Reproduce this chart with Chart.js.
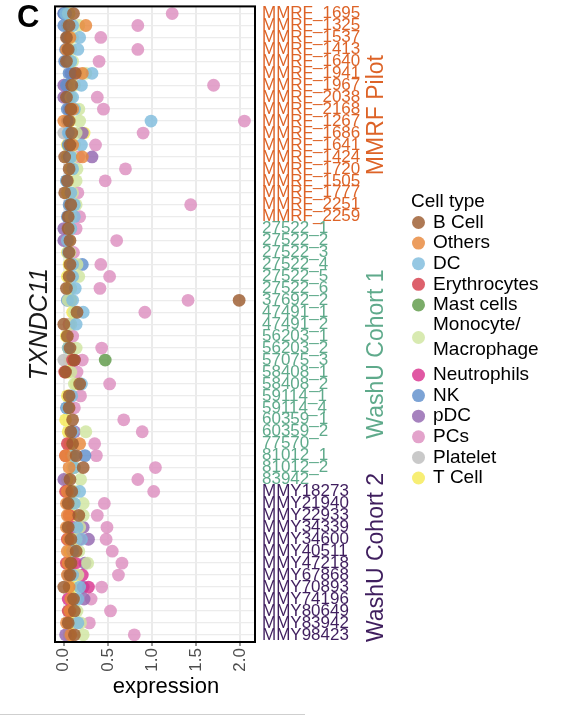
<!DOCTYPE html>
<html>
<head>
<meta charset="utf-8">
<script src="https://cdn.jsdelivr.net/npm/chart.js@4"></script>
<style>
  html, body { margin: 0; padding: 0; background: #fff; }
</style>
</head>
<body>
<canvas id="chart" width="580" height="719"></canvas>
<script>
const _ = null;

// Samples, top to bottom, grouped by cohort
const mmrfSamples = ['MMRF_1695', 'MMRF_1325', 'MMRF_1537', 'MMRF_1413', 'MMRF_1640', 'MMRF_1941',
  'MMRF_1967', 'MMRF_2038', 'MMRF_2168', 'MMRF_1267', 'MMRF_1686', 'MMRF_1641', 'MMRF_1424',
  'MMRF_1720', 'MMRF_1505', 'MMRF_1777', 'MMRF_2251', 'MMRF_2259'];
const washu1Samples = ['27522_1', '27522_2', '27522_3', '27522_4', '27522_5', '27522_6', '37692_2',
  '47491_1', '47491_2', '56203_1', '56203_2', '57075_3', '58408_1', '58408_2', '59114_1', '59114_4',
  '60359_1', '60359_2', '77570', '81012_1', '81012_2', '83942'];
const washu2Samples = ['MMY18273', 'MMY21940', 'MMY22933', 'MMY34339', 'MMY34600', 'MMY40511',
  'MMY47218', 'MMY67868', 'MMY70893', 'MMY74196', 'MMY80649', 'MMY83942', 'MMY98423'];

const cohorts = ['MMRF Pilot', 'WashU Cohort 1', 'WashU Cohort 2'];
const cohortColors = ['#DD6327', '#5FAA8B', '#3F1E5E'];

const cellTypes = ['B Cell', 'Others', 'DC', 'Erythrocytes', 'Mast cells', 'Monocyte/Macrophage',
  'Neutrophils', 'NK', 'pDC', 'PCs', 'Platelet', 'T Cell'];
const cellColors = ['#9C5B2E', '#E8883A', '#7FBCDD', '#D63E4C', '#5E9A48', '#CFE5A0',
  '#D9338F', '#5F8FCC', '#9366B0', '#DD8FC0', '#BDBDBD', '#F5EA55'];

// TXNDC11 expression per sample (rows: MMRF / WashU 1 / WashU 2)
const bCell = [
  0.11, 0.06, 0.03, 0.05, 0.03, 0.13, 0.09, 0.03, 0.08, 0.06, 0.09, 0.07, 0.01, 0.06, 0.04, 0.01, 0.08, 0.05,
  0.05, 0.07, 0.06, 0.07, 0.06, 0.03, 1.99, 0.15, 0.00, 0.04, 0.07, 0.12, 0.02, 0.18, 0.06, 0.06, 0.10, 0.08, 0.10, 0.14, 0.22, 0.07,
  0.09, 0.05, 0.17, 0.05, 0.08, 0.14, 0.08, 0.07, 0.00, 0.11, 0.12, 0.05, 0.12];
const others = [
  _, 0.25, 0.07, 0.03, _, 0.21, _, _, 0.10, 0.00, _, 0.10, 0.21, _, _, _, _, _,
  _, _, _, _, _, _, _, _, _, _, _, _, _, _, _, _, _, _, 0.18, 0.02, 0.06, _,
  0.04, 0.03, 0.04, 0.03, 0.05, 0.04, 0.05, 0.04, 0.06, 0.08, 0.07, 0.03, 0.08];
const dc = [
  0.02, 0.10, 0.18, 0.16, 0.08, 0.32, 0.20, 0.10, 0.12, 0.99, 0.05, 0.20, 0.08, 0.10, 0.03, 0.08, 0.12, 0.12,
  0.08, 0.04, 0.05, 0.10, 0.10, 0.13, 0.10, 0.22, 0.14, _, 0.05, _, _, 0.20, 0.09, 0.04, _, 0.10, _, 0.11, 0.12, _,
  0.18, 0.12, _, 0.15, 0.20, 0.10, _, 0.10, 0.18, 0.16, _, 0.16, _];
const erythrocytes = [
  _, _, _, _, _, _, _, _, _, _, _, _, _, _, _, _, _, _,
  _, _, _, _, _, _, _, _, _, _, _, 0.10, 0.01, _, _, _, _, _, 0.04, 0.02, _, _,
  0.02, _, 0.06, _, 0.04, _, 0.03, _, _, _, 0.05, _, _];
const mastCells = [
  _, _, _, _, _, _, _, _, _, _, _, _, _, _, _, _, _, _,
  _, _, _, _, _, _, _, _, _, _, _, 0.47, _, _, _, _, _, _, _, _, _, _,
  _, _, _, _, _, _, _, _, _, _, _, _, _];
const monocyte = [
  0.05, 0.17, 0.10, 0.08, 0.10, 0.25, 0.12, 0.08, 0.17, 0.18, 0.14, 0.12, 0.10, 0.15, 0.14, 0.10, 0.14, 0.08,
  0.07, _, 0.07, 0.15, 0.17, 0.08, 0.05, 0.12, 0.08, _, 0.14, _, 0.08, 0.12, _, _, _, 0.25, _, _, 0.10, 0.19,
  0.12, 0.22, 0.22, 0.18, 0.14, 0.17, 0.27, 0.16, _, 0.12, 0.15, 0.19, 0.22];
const neutrophils = [
  _, _, _, _, _, _, _, _, _, _, _, _, _, _, _, _, _, _,
  _, _, _, _, _, _, _, _, _, _, _, 0.12, _, _, _, _, _, _, _, _, _, _,
  _, _, _, 0.10, 0.18, _, 0.13, 0.21, 0.28, 0.05, _, _, _];
const nk = [
  0.00, 0.00, 0.04, 0.02, 0.01, 0.06, 0.03, 0.05, 0.04, 0.04, 0.06, 0.05, 0.06, _, 0.03, _, 0.06, 0.04,
  _, _, _, 0.21, _, _, 0.04, _, _, _, _, _, _, _, _, 0.03, _, _, _, 0.24, _, _,
  0.06, _, _, _, 0.06, _, _, 0.05, _, _, _, _, _];
const pdc = [
  0.00, _, _, _, _, 0.08, 0.00, 0.00, 0.06, _, 0.21, _, 0.32, _, _, _, _, _,
  0.00, 0.00, _, _, _, _, _, _, _, _, _, _, _, _, _, _, _, 0.12, _, _, _, 0.00,
  _, _, _, 0.22, 0.28, _, 0.24, _, 0.22, 0.23, _, _, 0.02];
const pcs = [
  1.23, 0.84, 0.42, 0.84, 0.40, 0.15, 1.70, 0.38, 0.45, 2.05, 0.90, 0.36, 0.17, 0.70, 0.47, 0.16, 1.44, 0.18,
  0.14, 0.60, 0.11, 0.42, 0.52, 0.41, 1.41, 0.92, 0.06, 0.10, 0.43, 0.21, 0.15, 0.52, 0.19, 0.12, 0.68, 0.89, 0.35, 0.37, 1.04, 0.84,
  1.02, 0.46, 0.38, 0.49, 0.48, 0.55, 0.66, 0.62, 0.43, 0.31, 0.53, 0.29, 0.80];
const platelet = [
  _, _, _, _, _, _, _, _, _, _, 0.00, _, _, _, _, _, _, _,
  _, _, _, _, _, _, _, _, _, _, _, 0.00, _, _, _, _, _, _, _, _, _, _,
  _, _, _, _, _, _, _, _, _, _, _, _, _];
const tCell = [
  0.06, 0.04, 0.05, 0.04, 0.05, 0.10, 0.05, 0.06, 0.06, 0.07, 0.23, 0.04, 0.04, 0.08, 0.05, 0.04, 0.07, 0.06,
  0.04, 0.05, 0.04, 0.06, 0.04, 0.06, 0.08, 0.10, 0.06, 0.03, 0.05, 0.08, 0.05, 0.14, 0.04, 0.05, 0.02, 0.05, 0.07, 0.08, 0.12, 0.04,
  0.08, 0.10, 0.08, 0.10, 0.12, 0.07, 0.10, 0.14, 0.10, 0.12, 0.08, 0.08, 0.06];

const xTicks = [0, 0.5, 1, 1.5, 2];

const samples = [...mmrfSamples, ...washu1Samples, ...washu2Samples];
const cohortSizes = [mmrfSamples.length, washu1Samples.length, washu2Samples.length];
const series = [bCell, others, dc, erythrocytes, mastCells, monocyte, neutrophils, nk, pdc, pcs, platelet, tCell];

const FONT = "'Liberation Sans', Arial, Helvetica, sans-serif";

function cohortOf(row) {
  let end = 0;
  for (let i = 0; i < cohortSizes.length; i++) {
    end += cohortSizes[i];
    if (row < end) return i;
  }
  return cohortSizes.length - 1;
}

function withAlpha(hex, a) {
  const n = parseInt(hex.slice(1), 16);
  return `rgba(${n >> 16}, ${(n >> 8) & 255}, ${n & 255}, ${a})`;
}

// B Cell first -> Chart.js paints it last, on top of the others
const datasets = cellTypes.map((name, i) => ({
  label: name,
  data: series[i]
    .map((v, row) => (v === null ? null : { x: v, y: row }))
    .filter(p => p !== null),
  backgroundColor: withAlpha(cellColors[i], 0.82),
  borderWidth: 0,
  pointRadius: 6.4,
  pointHoverRadius: 6.4
}));

const yMin = -0.6;
const yMax = samples.length - 0.4;

// cohort names, legend, x title, panel frame and panel letter
const decorations = {
  id: 'decorations',
  afterDraw(chart) {
    const { ctx, chartArea: area, scales: { y } } = chart;
    ctx.save();

    ctx.strokeStyle = '#000';
    ctx.lineWidth = 2;
    ctx.strokeRect(area.left, area.top, area.right - area.left, area.bottom - area.top);

    // cohort labels
    ctx.font = `23px ${FONT}`;
    ctx.textAlign = 'center';
    ctx.textBaseline = 'middle';
    let start = 0;
    cohortSizes.forEach((n, i) => {
      const top = y.getPixelForValue(start - 0.5);
      const bottom = y.getPixelForValue(start + n - 0.5);
      const w = ctx.measureText(cohorts[i]).width;
      let c = (top + bottom) / 2;
      c = Math.min(c, area.bottom - w / 2);
      c = Math.max(c, area.top + w / 2);
      ctx.save();
      ctx.translate(377, c);
      ctx.rotate(-Math.PI / 2);
      ctx.fillStyle = cohortColors[i];
      ctx.fillText(cohorts[i], 0, 0);
      ctx.restore();
      start += n;
    });

    // x axis title
    ctx.fillStyle = '#000';
    ctx.font = `22px ${FONT}`;
    ctx.fillText('expression', 166, 687);

    // legend
    ctx.textAlign = 'left';
    ctx.font = `19px ${FONT}`;
    ctx.fillText('Cell type', 411, 202);
    let ly = 222.5;
    chart.data.datasets.forEach(ds => {
      const parts = ds.label.split('/');
      const lines = parts.length > 1 ? [parts[0] + '/', parts[1]] : [ds.label];
      const cy = lines.length > 1 ? ly + 12 : ly;
      ctx.beginPath();
      ctx.arc(418.5, cy, 6.5, 0, Math.PI * 2);
      ctx.fillStyle = ds.backgroundColor;
      ctx.fill();
      ctx.fillStyle = '#000';
      lines.forEach((t, k) => ctx.fillText(t, 433, cy + (k - (lines.length - 1) / 2) * 25));
      ly += lines.length > 1 ? 49.5 : 20.6;
    });

    // panel letter
    ctx.font = `bold 31px ${FONT}`;
    ctx.textBaseline = 'alphabetic';
    ctx.fillText('C', 17, 27);

    // edge of the next panel
    ctx.strokeStyle = '#CFCFCF';
    ctx.lineWidth = 1;
    ctx.beginPath();
    ctx.moveTo(0, 714.5);
    ctx.lineTo(305, 714.5);
    ctx.stroke();

    ctx.restore();
  }
};

new Chart(document.getElementById('chart'), {
  type: 'scatter',
  data: { datasets },
  options: {
    responsive: false,
    animation: false,
    layout: { padding: { left: 0, right: 220, top: 4, bottom: 0 } },
    plugins: { legend: { display: false }, tooltip: { enabled: false } },
    scales: {
      x: {
        type: 'linear',
        min: -0.1,
        max: 2.17,
        afterBuildTicks: s => { s.ticks = xTicks.map(v => ({ value: v })); },
        afterFit: s => { s.height = 77; s.paddingLeft = 0; s.paddingRight = 0; },
        grid: { color: '#EBEBEB', lineWidth: 2, drawTicks: true, tickLength: 4, tickColor: '#333333', tickWidth: 1 },
        border: { display: false },
        ticks: {
          minRotation: 90,
          maxRotation: 90,
          padding: 2,
          color: '#4D4D4D',
          font: { size: 17, family: FONT },
          callback: v => v.toFixed(1)
        }
      },
      y: {
        type: 'linear',
        position: 'right',
        reverse: true,
        min: yMin,
        max: yMax,
        afterBuildTicks: s => { s.ticks = samples.map((_, i) => ({ value: i })); },
        afterFit: s => { s.width = 105; s.paddingTop = 0; s.paddingBottom = 0; },
        grid: { color: '#ECECEC', lineWidth: 1.3, drawTicks: false },
        border: { display: false },
        ticks: {
          autoSkip: false,
          padding: 7,
          font: { size: 17, family: FONT },
          color: c => cohortColors[cohortOf(c.index)],
          callback: v => samples[v]
        }
      },
      yl: {
        type: 'linear',
        position: 'left',
        reverse: true,
        min: yMin,
        max: yMax,
        afterFit: s => { s.width = 55; s.paddingTop = 0; s.paddingBottom = 0; },
        grid: { display: false },
        border: { display: false },
        ticks: { display: false },
        title: {
          display: true,
          text: 'TXNDC11',
          color: '#1A1A1A',
          font: { size: 25, style: 'italic', family: FONT },
          padding: { top: 25, bottom: 0 }
        }
      }
    }
  },
  plugins: [decorations]
});
</script>
</body>
</html>
